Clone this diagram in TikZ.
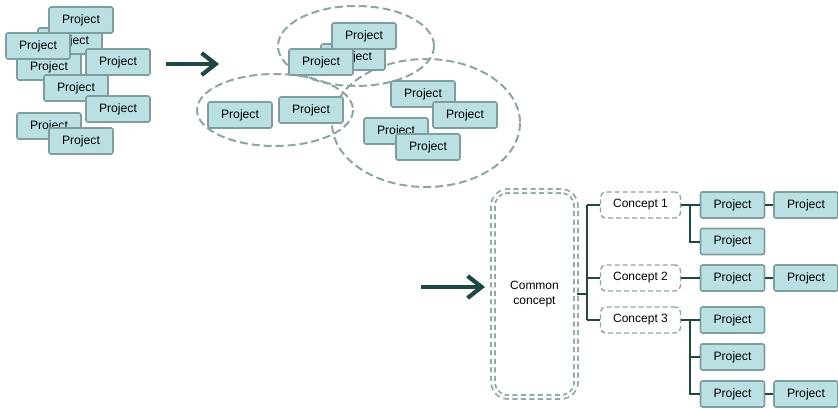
\documentclass[tikz,border=0pt]{standalone}
\usepackage{fontspec}
\setmainfont{Liberation Sans}
\usetikzlibrary{arrows.meta,calc}
\definecolor{projfill}{RGB}{186,224,227}
\definecolor{projline}{RGB}{126,158,158}
\definecolor{dashline}{RGB}{140,165,165}
\definecolor{darkteal}{RGB}{30,72,72}
\tikzset{
  proj/.style={rectangle, rounded corners=2pt, fill=projfill, draw=projline,
    line width=1.6pt, minimum width=64pt, minimum height=26pt, inner sep=0pt,
    font=\fontsize{12.2}{13}\selectfont},
  concept/.style={rectangle, rounded corners=5pt, draw=dashline, line width=1.4pt,
    dash pattern=on 5pt off 3pt, fill=white, minimum width=80pt, minimum height=26pt,
    inner sep=0pt, font=\fontsize{12}{13}\selectfont},
  common/.style={rectangle, rounded corners=15pt, draw=dashline, line width=1.7pt,
    double=white, double distance=2.2pt, dash pattern=on 5pt off 3.5pt,
    minimum width=83pt, minimum height=206pt, inner sep=0pt, align=center,
    font=\fontsize{12}{15}\selectfont},
  group/.style={draw=dashline, line width=2pt, dash pattern=on 8pt off 4pt},
  bigarrow/.style={draw=darkteal, line width=4.5pt,
    -{Straight Barb[length=14pt,width=22pt,line width=4.2pt]}},
  conn/.style={draw=darkteal, line width=2pt}
}
\begin{document}
\begin{tikzpicture}[x=1pt,y=-1pt]
\useasboundingbox (0,0) rectangle (838,407);

% loose projects
\node[proj] (l2) at (70,41) {Project};
\node[proj] (l1) at (81,20) {Project};
\node[proj] (l4) at (49,67) {Project};
\node[proj] (l3) at (38,46) {Project};
\node[proj] (l5) at (118,62) {Project};
\node[proj] (l6) at (76,88) {Project};
\node[proj] (l7) at (118,109) {Project};
\node[proj] (l8) at (49,126) {Project};
\node[proj] (l9) at (81,141) {Project};

% first arrow
\coordinate (a1s) at (166,64);
\coordinate (a1e) at (219,64);
\draw[bigarrow] (a1s) -- (a1e);

% grouped projects
\draw[group] (356,46) ellipse [x radius=78, y radius=40];
\draw[group] (275,110) ellipse [x radius=78, y radius=36];
\draw[group] (426,123) ellipse [x radius=94, y radius=64];

\node[proj] (m2) at (353,57) {Project};
\node[proj] (m1) at (364,36) {Project};
\node[proj] (m3) at (321,62) {Project};
\node[proj] (m4) at (240,115) {Project};
\node[proj] (m5) at (311,110) {Project};
\node[proj] (m6) at (423,94) {Project};
\node[proj] (m7) at (465,115) {Project};
\node[proj] (m8) at (396,131) {Project};
\node[proj] (m9) at (428,147) {Project};

% second arrow
\coordinate (a2s) at (421,287);
\coordinate (a2e) at (485,287);
\draw[bigarrow] (a2s) -- (a2e);

% hierarchy
\node[common] (cc) at (534.5,294) {Common\\concept};
\node[concept] (c1) at (640.5,205) {Concept 1};
\node[concept] (c2) at (640.5,278) {Concept 2};
\node[concept] (c3) at (640.5,320) {Concept 3};

\node[proj] (p1) at (732.5,205) {Project};
\node[proj] (p2) at (732.5,241.5) {Project};
\node[proj] (p3) at (732.5,278) {Project};
\node[proj] (p4) at (732.5,320) {Project};
\node[proj] (p5) at (732.5,357) {Project};
\node[proj] (p6) at (732.5,394) {Project};
\node[proj] (q1) at (806,205) {Project};
\node[proj] (q3) at (806,278) {Project};
\node[proj] (q6) at (806,394) {Project};

\coordinate (jt) at ($(cc.east)+(10,0)$);
\draw[conn] (cc.east) -- (jt);
\draw[conn] (jt |- c1.west) -- (jt |- c3.west);
\foreach \c in {c1,c2,c3} \draw[conn] (jt |- \c.west) -- (\c.west);

\coordinate (k1) at ($(c1.east)!0.5!(c1.east -| p1.west)$);
\coordinate (k3) at ($(c3.east)!0.5!(c3.east -| p4.west)$);
\draw[conn] (c1.east) -- (p1.west);
\draw[conn] (k1) |- (p2.west);
\draw[conn] (c2.east) -- (p3.west);
\draw[conn] (c3.east) -- (p4.west);
\draw[conn] (k3) |- (p6.west);
\draw[conn] (k3 |- p5.west) -- (p5.west);

\draw[conn] (p1.east) -- (q1.west);
\draw[conn] (p3.east) -- (q3.west);
\draw[conn] (p6.east) -- (q6.west);
\end{tikzpicture}
\end{document}
